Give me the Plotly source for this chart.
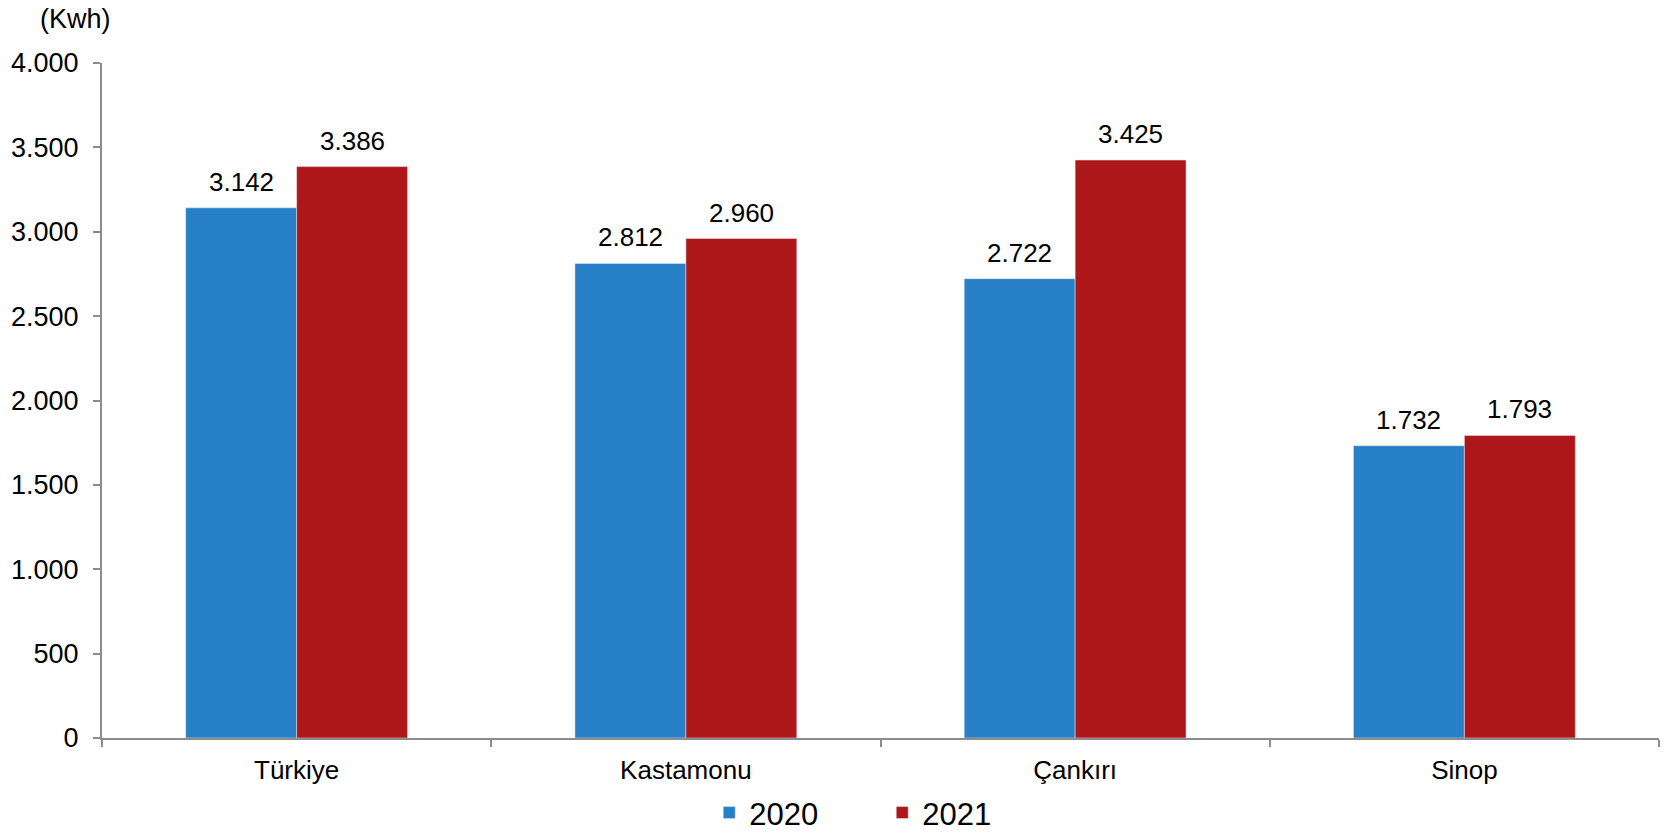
import plotly.graph_objects as go

# Data
regions = ["Türkiye", "Kastamonu", "Çankırı", "Sinop"]
values_2020 = [3142, 2812, 2722, 1732]
values_2021 = [3386, 2960, 3425, 1793]
y_ticks = [0, 500, 1000, 1500, 2000, 2500, 3000, 3500, 4000]

BLUE = "#2780C6"
RED = "#AE1719"
AXIS_GREY = "#8C8C8C"
FONT = "Liberation Sans, Arial, sans-serif"

W, H = 1669, 834
M_L, M_R, M_T, M_B = 102, 10, 63, 96

fig = go.Figure()

fig.add_trace(go.Bar(x=regions, y=values_2020, name="2020", marker_color=BLUE))
fig.add_trace(go.Bar(x=regions, y=values_2021, name="2021", marker_color=RED))

# Value labels above each bar (shifted half a bar width left/right of the category centre)
plot_w = W - M_L - M_R
bar_w = plot_w / len(regions) * 0.57 / 2
labels = []
for vals, shift in ((values_2020, -bar_w / 2), (values_2021, bar_w / 2)):
    for cat, v in zip(regions, vals):
        labels.append(dict(x=cat, y=v, text=f"{v:,}".replace(",", "."), xshift=shift,
                           yshift=9, yanchor="bottom", showarrow=False,
                           font=dict(size=26, color="black")))

labels.append(dict(text="(Kwh)", xref="paper", yref="paper", x=-0.017, y=1.0,
                   yshift=44, xanchor="center", yanchor="middle", showarrow=False,
                   font=dict(size=27)))

fig.update_layout(
    width=W, height=H,
    margin=dict(l=M_L, r=M_R, t=M_T, b=M_B, autoexpand=False),
    plot_bgcolor="white", paper_bgcolor="white",
    font=dict(family=FONT, size=26, color="black"),
    separators=",.",
    barmode="group", bargap=0.43, bargroupgap=0,
    showlegend=True,
    legend=dict(orientation="h", x=0.39, xanchor="left", y=-0.111, yanchor="middle",
                font=dict(size=31), entrywidth=128, itemwidth=30),
    annotations=labels,
)

fig.update_xaxes(showline=True, linecolor=AXIS_GREY, linewidth=2,
                 ticks="outside", tickson="boundaries", ticklen=7,
                 tickcolor=AXIS_GREY, tickwidth=2, showgrid=False,
                 tickfont=dict(size=26), ticklabelstandoff=8)
fig.update_yaxes(range=[0, 4000], tickvals=y_ticks, tickformat=",d",
                 showline=True, linecolor=AXIS_GREY, linewidth=2,
                 ticks="outside", ticklen=7, tickcolor=AXIS_GREY, tickwidth=2,
                 showgrid=False, zeroline=False, tickfont=dict(size=27),
                 ticklabelstandoff=9)

# drop the page's default body margin so the figure fills the window exactly
fig.write_html("out.html", config={"displayModeBar": False},
               post_script="document.body.style.margin='0';")
